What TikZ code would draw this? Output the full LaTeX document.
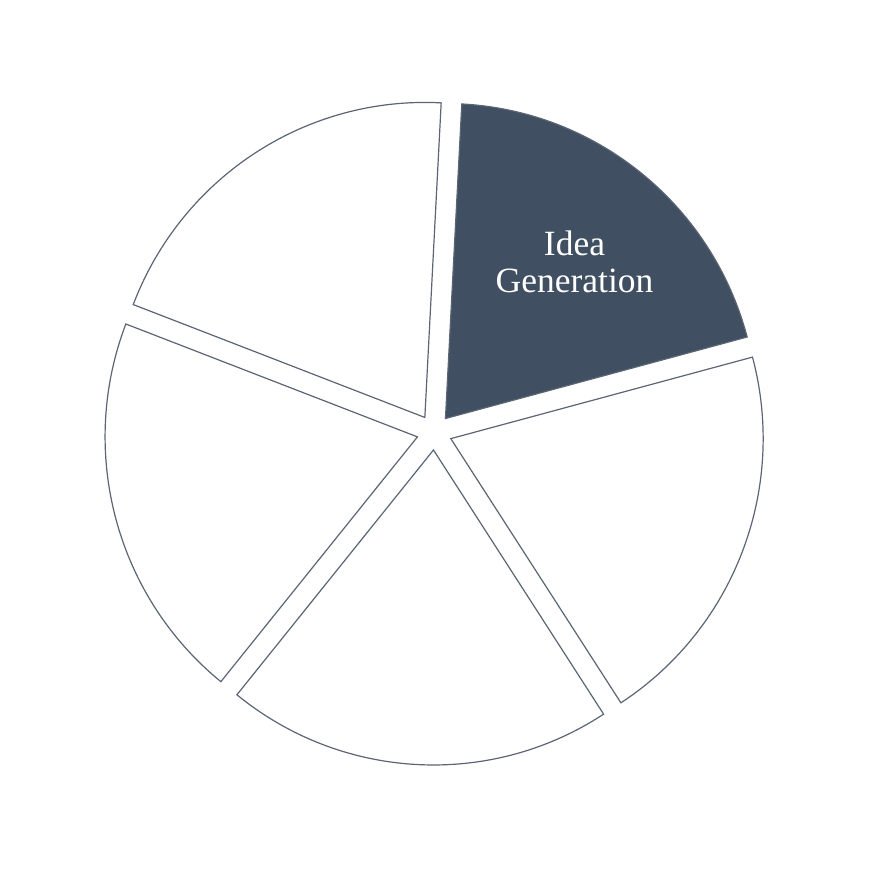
\documentclass[tikz,border=0pt]{standalone}
\usepackage{fontspec}
\setmainfont{Liberation Serif}
\definecolor{slicefill}{HTML}{404F61}
\definecolor{slicestroke}{HTML}{5B6573}
\begin{document}
\begin{tikzpicture}[x=0.9916pt,y=1pt,
  slice/.style={draw=slicestroke, line width=1.2pt, line join=miter, fill=white},
  keyslice/.style={slice, fill=slicefill},
  slicelabel/.style={text=white, align=center, font=\fontsize{35.5}{36.7}\selectfont, inner sep=0pt}]
\useasboundingbox (0pt,0pt) rectangle (870pt,870pt);
\coordinate (C) at (434.4pt,437.7pt);
\foreach \a/\st in {15/keyslice, 87/slice, 159/slice, 231/slice, 303/slice} {
  \pgfmathsetmacro{\b}{\a+36}
  \pgfmathsetmacro{\e}{\a+72}
  \draw[\st, shift={(C)}] (\b:17.7) -- ++(\a:315) arc[start angle=\a, end angle=\e, x radius=312.35pt, y radius=315pt] -- cycle;
}
\node[slicelabel] (idea) at (574.5pt,608pt) {Idea\\Generation};
\end{tikzpicture}
\end{document}
